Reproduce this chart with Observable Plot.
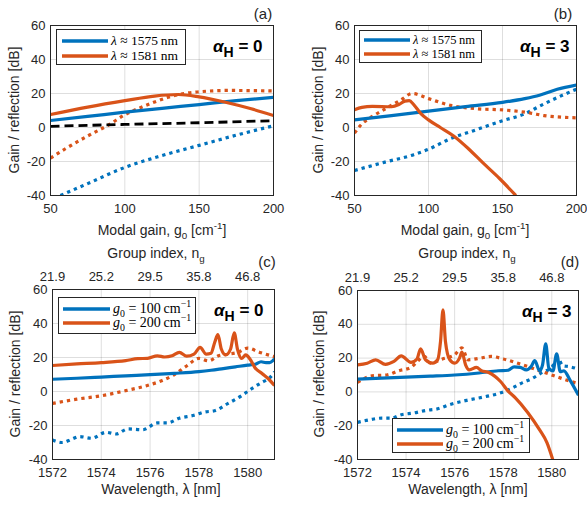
<!DOCTYPE html>
<html><head><meta charset="utf-8">
<script src="https://cdn.jsdelivr.net/npm/d3@7"></script>
<script src="https://cdn.jsdelivr.net/npm/@observablehq/plot@0.6"></script>
<style>
body{margin:0;background:#fff;}
#fig{position:relative;width:587px;height:506px;overflow:hidden;font-family:"Liberation Sans",Arial,sans-serif;color:#262626;}
.panel{position:absolute;}
.lbl{position:absolute;font-size:14px;white-space:nowrap;transform:translate(-50%,-50%);line-height:1;}
.ylbl{position:absolute;font-size:14px;white-space:nowrap;transform:translate(-50%,-50%) rotate(-90deg);line-height:1;}
.tag{position:absolute;font-size:15px;white-space:nowrap;transform:translate(-50%,-50%);line-height:1;}
.alpha{position:absolute;font-size:17px;font-weight:bold;white-space:nowrap;line-height:1;color:#000;}
.alpha sub{font-size:14px;vertical-align:-5px;}
.leg{position:absolute;background:#fff;border:1px solid #262626;box-sizing:border-box;font-family:"Liberation Serif","Times New Roman",serif;font-size:13.5px;color:#000;}
.row{position:absolute;left:0;display:flex;align-items:center;height:14px;}
.row svg{display:block;}
.row span{margin-left:3px;white-space:nowrap;}
sub,sup{font-size:70%;line-height:0;}
</style></head>
<body><div id="fig"></div>
<script>
// ---------------- data ----------------
const blue = "#0072BD", orange = "#D95319";
const yTicks = [-40, -20, 0, 20, 40, 60];
const gTicks = [50, 100, 150, 200];
const wlTicks = [1572, 1574, 1576, 1578, 1580];
const ngLabels = ["21.9", "25.2", "29.5", "35.8", "46.8"];

// (a) alpha_H = 0, x = modal gain g0
const aBlueSolid = [[50,4.1],[75,6.5],[100,9],[125,11.3],[150,13.5],[175,15.8],[200,17.8]];
const aOrangeSolid = [[50,7.6],[75,12],[100,15.8],[120,18.5],[136,19.4],[150,18],[167,15],[185,11],[200,7]];
const aOrangeDot = [[50,-18],[60,-12.5],[75,-5],[90,2],[100,7.5],[110,11.5],[120,15],[130,18],[140,20],[150,21],[170,21.8],[200,21.5]];
const aBlueDot = [[56.7,-40],[75,-33],[100,-23.5],[125,-16.5],[150,-10.5],[175,-4.5],[200,1]];
const aBlackDash = [[50,0.7],[100,1.8],[150,2.8],[200,4]];

// (b) alpha_H = 3
const bBlueSolid = [[50,4.5],[75,7],[100,9.6],[125,12.3],[150,14.8],[165,17],[175,19],[187,22.5],[200,25]];
const bOrangeSolid = [[50,10.4],[55,11.8],[62,12.4],[75,12.2],[80,13.5],[84,15.5],[87,15.8],[90,13.5],[95,8],[100,4.5],[108,0],[117,-5],[127,-12.5],[137,-21],[148,-30],[159,-40]];
const bOrangeDot = [[50,-3.3],[54,1.2],[63,7],[72,11.6],[81,16],[89,20],[100,17],[115,13],[133,11],[151,10.3],[169,8.5],[178,7],[200,5.7]];
const bBlueDot = [[50,-25.3],[70,-20.5],[90,-16],[100,-12.8],[115,-6.5],[130,-2],[150,4],[165,8],[175,12.5],[188,18],[200,22.5]];

// (c) alpha_H = 0, x = wavelength
const cBlueSolid = [[1572,7.2],[1573,7.8],[1574,8.5],[1575,9.2],[1576,9.9],[1577,10.7],[1578,11.7],[1578.5,12.5],[1579,13.5],[1579.5,14.5],[1580,15.5],[1580.3,16],[1580.55,17.5],[1580.75,17],[1580.9,17],[1581.1,19.2]];
const cOrangeSolid = [[1572,15.3],[1573,16.2],[1574,17],[1575,18.2],[1575.5,19.3],[1575.9,19.5],[1576.3,21],[1576.6,20.3],[1576.9,21],[1577.2,23],[1577.5,20.8],[1577.8,22],[1578.05,26],[1578.3,22],[1578.5,22.5],[1578.65,29],[1578.78,33.5],[1578.92,25],[1579.1,21.5],[1579.3,25],[1579.45,34.5],[1579.58,25],[1579.75,19.5],[1579.92,21.5],[1580.1,19],[1580.3,14],[1580.6,10.5],[1580.85,7.5],[1581.1,3.5]];
const cOrangeDot = [[1572,-7],[1573,-4.5],[1574,-2.5],[1575,0.5],[1576,4],[1576.5,6.5],[1577,10],[1577.5,15],[1578,19.5],[1578.4,18],[1578.8,21],[1579.2,22],[1579.6,23],[1580,25.5],[1580.5,23],[1581.1,20.5]];
const cBlueDot = [[1572,-28.5],[1572.4,-30],[1572.8,-28],[1573.1,-26.5],[1573.6,-27.5],[1574.2,-24],[1574.6,-25],[1575.1,-22],[1575.7,-22.5],[1576.3,-18.5],[1576.7,-18.5],[1577.2,-15.7],[1577.8,-14],[1578.25,-12],[1578.6,-11.5],[1579.2,-7],[1579.75,-2.5],[1580.2,2],[1580.6,5.5],[1580.9,8],[1581.1,11.5]];

// (d) alpha_H = 3, x = wavelength
const dBlueSolid = [[1572,7.6],[1573,8.2],[1574,8.7],[1575,9.3],[1576,10],[1577,11.2],[1577.8,12.5],[1578.2,12.8],[1578.45,14.8],[1578.7,14.5],[1578.95,13],[1579.15,15],[1579.3,18.5],[1579.5,12.5],[1579.62,16],[1579.75,28.5],[1579.88,14],[1580.05,12.5],[1580.2,22.5],[1580.35,12],[1580.5,12.5],[1580.75,7],[1581.1,-2]];
const dOrangeSolid = [[1572,16],[1572.4,17],[1572.75,19],[1573.15,16.3],[1573.5,18],[1573.8,21.3],[1574.2,17.5],[1574.45,19.5],[1574.6,25.5],[1574.8,19],[1575.1,17],[1575.3,19],[1575.42,30],[1575.52,48.5],[1575.62,30],[1575.8,19],[1576.0,17],[1576.2,20],[1576.3,23.5],[1576.45,16],[1576.6,13],[1576.9,14.5],[1577.1,12.5],[1577.4,11.5],[1577.9,6],[1578.2,0.5],[1578.5,-3.5],[1579,-12],[1579.5,-22.5],[1579.8,-30],[1580.05,-40.5]];
const dOrangeDot = [[1572,5.7],[1572.6,9.5],[1573.2,10],[1573.7,12.5],[1574.2,14.5],[1574.5,18.5],[1574.75,21],[1575,17],[1575.5,19.5],[1576,22],[1576.3,26],[1576.55,19],[1577,19.8],[1577.5,21],[1578,19.5],[1578.7,16.5],[1579.4,13],[1579.9,10.5],[1580.4,8],[1581.1,4.8]];
const dBlueDot = [[1572,-18],[1572.5,-16.5],[1573,-15.5],[1573.4,-15.5],[1573.8,-13.5],[1574.3,-12.5],[1574.8,-11],[1575.3,-10],[1575.8,-7.5],[1576.5,-5],[1577.2,-3],[1577.9,-0.5],[1578.4,2.5],[1578.8,5.5],[1579.2,8],[1579.6,11.5],[1580,14.5],[1580.25,20],[1580.45,15.5],[1580.7,15],[1581.1,13.5]];

// ---------------- drawing ----------------
const fig = document.getElementById("fig");
const DOT = "3.3,4", DASH = "9,5";

function lineMark(data, stroke, dash, w = 3.2) {
  return Plot.line(data, {x: d => d[0], y: d => d[1], stroke, strokeWidth: w,
    strokeDasharray: dash, curve: "monotone-x", clip: true,
    strokeLinejoin: "round", strokeLinecap: "butt"});
}

function panel(o) {
  const marks = [
    Plot.gridX(o.xTicks, {stroke: "#000", strokeOpacity: 0.13}),
    Plot.gridY(yTicks, {stroke: "#000", strokeOpacity: 0.13}),
    Plot.axisY(yTicks, {tickSize: 0, tickPadding: 5, label: null, fill: "#262626", tickFormat: d => String(d)}),
    Plot.axisX(o.xTicks, {tickSize: 0, tickPadding: 8, label: null, fill: "#262626", tickFormat: d => String(d)})
  ];
  if (o.top) marks.push(Plot.axisX(o.xTicks, {anchor: "top", tickSize: 0, tickPadding: 9, label: null,
    fill: "#262626", tickFormat: d => ngLabels[wlTicks.indexOf(d)]}));
  for (const s of o.series) marks.push(lineMark(s.data, s.stroke, s.dash, s.w));
  marks.push(Plot.frame({stroke: "#262626", strokeWidth: 1}));
  const svg = Plot.plot({
    width: o.w, height: o.h,
    marginLeft: o.ml, marginRight: o.mr, marginTop: o.mt, marginBottom: o.mb,
    style: {fontFamily: '"Liberation Sans", Arial, sans-serif', fontSize: "13px", color: "#262626", background: "transparent", overflow: "visible"},
    x: {domain: o.xDomain},
    y: {domain: [-40, 60]},
    marks
  });
  svg.classList.add("panel");
  svg.style.left = o.left + "px";
  svg.style.top = o.topPx + "px";
  fig.appendChild(svg);
}

panel({left: 0, topPx: 0, w: 293, h: 250, ml: 50, mr: 20, mt: 25, mb: 55, xDomain: [50, 200], xTicks: gTicks,
  series: [
    {data: aBlueDot, stroke: blue, dash: DOT},
    {data: aOrangeDot, stroke: orange, dash: DOT},
    {data: aBlackDash, stroke: "#000", dash: DASH, w: 2.8},
    {data: aBlueSolid, stroke: blue},
    {data: aOrangeSolid, stroke: orange}
  ]});
panel({left: 293, topPx: 0, w: 294, h: 250, ml: 61, mr: 11, mt: 25, mb: 55, xDomain: [50, 200], xTicks: gTicks,
  series: [
    {data: bBlueDot, stroke: blue, dash: DOT},
    {data: bOrangeDot, stroke: orange, dash: DOT},
    {data: bBlueSolid, stroke: blue},
    {data: bOrangeSolid, stroke: orange}
  ]});
panel({left: 0, topPx: 250, w: 293, h: 256, ml: 52, mr: 19, mt: 39, mb: 47, xDomain: [1572, 1581.1], xTicks: wlTicks, top: true,
  series: [
    {data: cBlueDot, stroke: blue, dash: DOT},
    {data: cOrangeDot, stroke: orange, dash: DOT},
    {data: cBlueSolid, stroke: blue},
    {data: cOrangeSolid, stroke: orange}
  ]});
panel({left: 293, topPx: 250, w: 294, h: 256, ml: 64, mr: 9, mt: 40, mb: 47, xDomain: [1572, 1581.1], xTicks: wlTicks, top: true,
  series: [
    {data: dBlueDot, stroke: blue, dash: DOT},
    {data: dOrangeDot, stroke: orange, dash: DOT},
    {data: dBlueSolid, stroke: blue},
    {data: dOrangeSolid, stroke: orange}
  ]});

// ---------------- text overlays ----------------
function add(cls, html, x, y) {
  const d = document.createElement("div");
  d.className = cls; d.innerHTML = html;
  d.style.left = x + "px"; d.style.top = y + "px";
  fig.appendChild(d);
}
const gLabel = 'Modal gain, g<sub>0</sub> [cm<sup>-1</sup>]';
add("lbl", gLabel, 162, 230);
add("lbl", gLabel, 465, 230);
add("lbl", 'Wavelength, λ [nm]', 161, 489);
add("lbl", 'Wavelength, λ [nm]', 468, 489);
add("lbl", 'Group index, n<sub>g</sub>', 156, 253);
add("lbl", 'Group index, n<sub>g</sub>', 467, 253);
add("ylbl", 'Gain / reflection [dB]', 14, 110);
add("ylbl", 'Gain / reflection [dB]', 318, 110);
add("ylbl", 'Gain / reflection [dB]', 15, 374);
add("ylbl", 'Gain / reflection [dB]', 319, 374);
add("tag", "(a)", 263, 13);
add("tag", "(b)", 563, 13);
add("tag", "(c)", 267, 261);
add("tag", "(d)", 570, 261);
add("alpha", '<i>α</i><sub>H</sub> = 0', 213, 38);
add("alpha", '<i>α</i><sub>H</sub> = 3', 520, 38);
add("alpha", '<i>α</i><sub>H</sub> = 0', 214, 302);
add("alpha", '<i>α</i><sub>H</sub> = 3', 522, 303);

function legend(x, y, w, h, rows, swX, swW, fs) {
  const d = document.createElement("div");
  d.className = "leg";
  Object.assign(d.style, {left: x + "px", top: y + "px", width: w + "px", height: h + "px", fontSize: fs + "px"});
  rows.forEach(r => {
    const row = document.createElement("div");
    row.className = "row";
    row.style.top = (r.cy - y - 7) + "px";
    row.style.left = (swX - x - 1) + "px";
    row.innerHTML = `<svg width="${swW}" height="14"><line x1="0" x2="${swW}" y1="7" y2="7" stroke="${r.c}" stroke-width="3.5"/></svg><span>${r.t}</span>`;
    d.appendChild(row);
  });
  fig.appendChild(d);
}
const lamA = '<i>λ</i> ≈ 1575&#8201;nm', lamB = '<i>λ</i> ≈ 1581&#8201;nm';
const g100 = '<i>g</i><sub>0</sub> = 100&#8201;cm<sup>−1</sup>', g200 = '<i>g</i><sub>0</sub> = 200&#8201;cm<sup>−1</sup>';
legend(56, 29, 130, 36, [{cy: 40, c: blue, t: lamA}, {cy: 55, c: orange, t: lamB}], 62, 46, 13.5);
legend(359, 30, 123, 33, [{cy: 39, c: blue, t: lamA}, {cy: 53, c: orange, t: lamB}], 364, 46, 12.5);
legend(58, 297, 138, 37, [{cy: 308, c: blue, t: g100}, {cy: 322, c: orange, t: g200}], 63, 47, 14);
legend(392, 418, 138, 35, [{cy: 429, c: blue, t: g100}, {cy: 443, c: orange, t: g200}], 397, 46, 14);
</script>
</body></html>
